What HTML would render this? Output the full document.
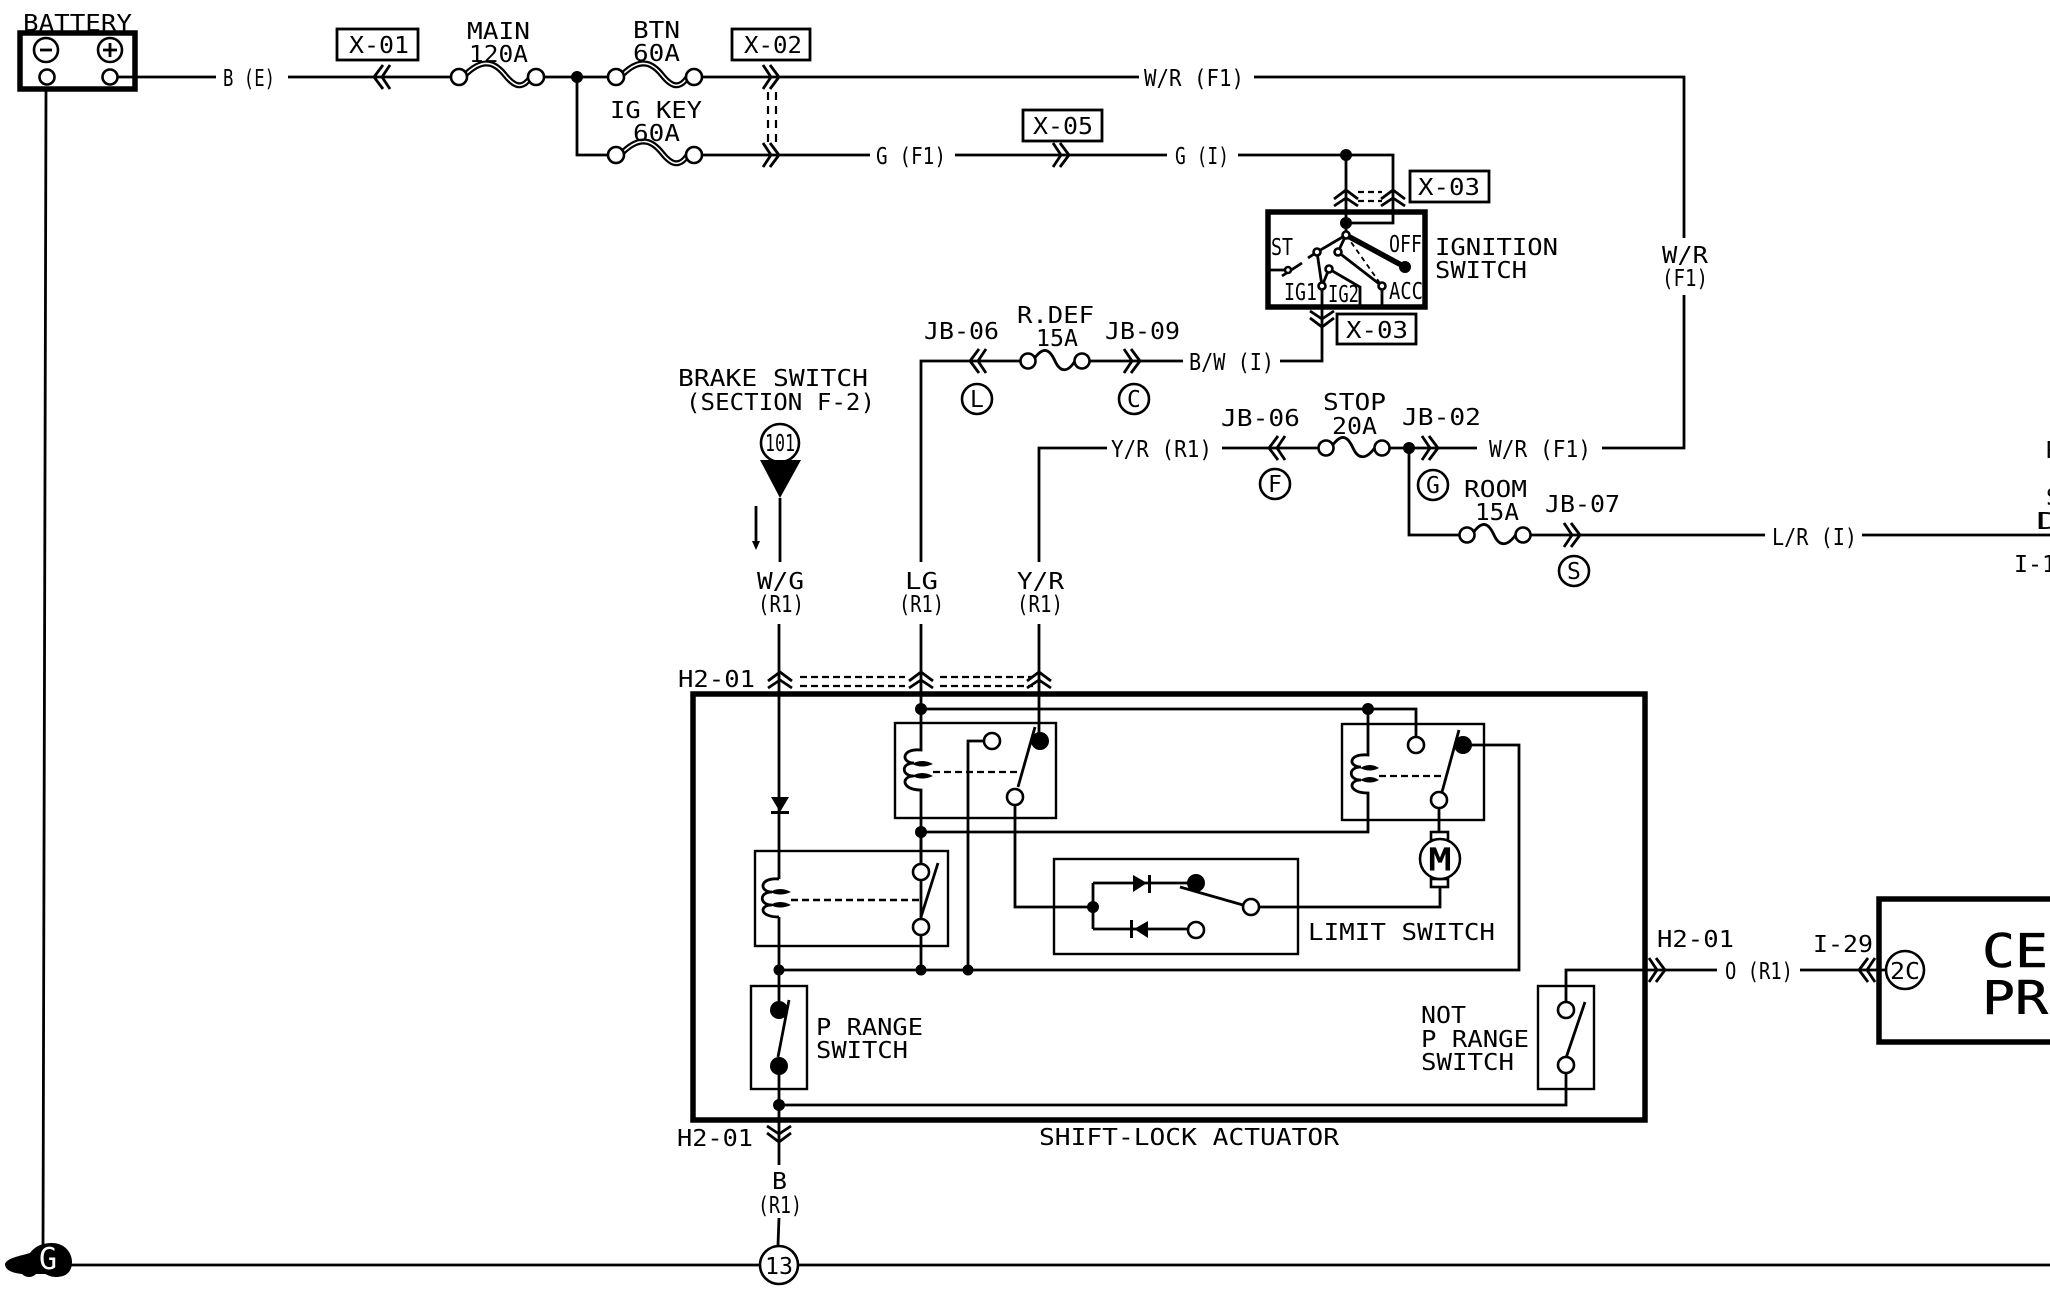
<!DOCTYPE html>
<html><head><meta charset="utf-8"><style>
html,body{margin:0;padding:0;background:#fff;width:2050px;height:1296px;overflow:hidden}
svg{display:block}
.w{fill:none;stroke:#000;stroke-width:2.8}
.b{fill:none;stroke:#000;stroke-width:5.5}
.t{fill:none;stroke:#000;stroke-width:2.4}
.o{fill:#fff;stroke:#000;stroke-width:2.6}
.f{fill:#000;stroke:none}
.d{fill:none;stroke:#000;stroke-width:2.2;stroke-dasharray:7 4}
text{font-family:"DejaVu Sans Mono","Liberation Mono",monospace;font-size:23px;fill:#000}
</style></head><body>
<svg xmlns="http://www.w3.org/2000/svg" width="2050" height="1296" viewBox="0 0 2050 1296">
<defs>
<path id="rr" class="w" d="M-10,-12 L-2,0 L-10,12 M-3,-12 L6,0 L-3,12"/>
</defs>

<!-- main wires -->
<path class="w" d="M118,77H216M288,77H459M536,77H616M694,77H1139M1254,77H1684V238M1684,295V448H1602"/>
<path class="w" d="M577,77V155H616M694,155H870M955,155H1167M1238,155H1393V223H1346M1346,155V223"/>
<path class="w" d="M1322,307V361H1280M1183,361H1082M1028,361H921V562M921,624V694"/>
<path class="w" d="M1039,694V624M1039,562V448H1107M1222,448H1326M1382,448H1477M1409,448V535H1467M1523,535H1765M1862,535H2050"/>
<path class="w" d="M780,498V562M779,624V879M779,917V1010M779,1066V1165M779,1218L778,1245"/>
<path class="w" d="M46,89L43,1245M70,1265H759M799,1265H2050"/>
<path class="w" d="M1566,1002V970H1717M1800,970H1885"/>

<!-- battery -->
<rect class="b" x="20" y="33" width="115" height="56"/>
<circle class="o" cx="46" cy="50" r="12" stroke-width="3"/><path class="w" d="M40,50H52"/>
<circle class="o" cx="110" cy="50" r="12" stroke-width="3"/><path class="w" d="M103,50H117M110,43V57"/>
<circle class="o" cx="47" cy="77" r="7.5"/><circle class="o" cx="110" cy="77" r="7.5"/>
<text x="23" y="31" textLength="109" lengthAdjust="spacingAndGlyphs">BATTERY</text>
<text x="223" y="86" textLength="52" lengthAdjust="spacingAndGlyphs">B (E)</text>

<!-- fuses top -->
<path style="fill:none;stroke:#000;stroke-width:6" d="M465,75C485,55 497,65 505,75C513,85 522,92 532,75"/>
<path style="fill:none;stroke:#fff;stroke-width:1.6" d="M465,75C485,55 497,65 505,75C513,85 522,92 532,75"/>
<circle class="o" cx="459" cy="77" r="8"/><circle class="o" cx="536" cy="77" r="8"/>
<path style="fill:none;stroke:#000;stroke-width:6" d="M622,75C642,55 654,65 662,75C670,85 679,92 689,75"/>
<path style="fill:none;stroke:#fff;stroke-width:1.6" d="M622,75C642,55 654,65 662,75C670,85 679,92 689,75"/>
<circle class="o" cx="616" cy="77" r="8"/><circle class="o" cx="694" cy="77" r="8"/>
<path style="fill:none;stroke:#000;stroke-width:6" d="M622,153C642,133 654,143 662,153C670,163 679,170 689,153"/>
<path style="fill:none;stroke:#fff;stroke-width:1.6" d="M622,153C642,133 654,143 662,153C670,163 679,170 689,153"/>
<circle class="o" cx="616" cy="155" r="8"/><circle class="o" cx="694" cy="155" r="8"/>
<circle class="f" cx="577" cy="77" r="6"/>
<text x="467" y="39" textLength="63" lengthAdjust="spacingAndGlyphs">MAIN</text>
<text x="469" y="62" textLength="59" lengthAdjust="spacingAndGlyphs">120A</text>
<text x="633" y="38" textLength="47" lengthAdjust="spacingAndGlyphs">BTN</text>
<text x="633" y="61" textLength="47" lengthAdjust="spacingAndGlyphs">60A</text>
<text x="610" y="118" textLength="92" lengthAdjust="spacingAndGlyphs">IG KEY</text>
<text x="633" y="141" textLength="47" lengthAdjust="spacingAndGlyphs">60A</text>

<!-- connector boxes -->
<rect class="w" x="337" y="29" width="81" height="31"/><text x="349" y="53" textLength="60" lengthAdjust="spacingAndGlyphs">X-01</text>
<rect class="w" x="732" y="29" width="78" height="31"/><text x="744" y="53" textLength="58" lengthAdjust="spacingAndGlyphs">X-02</text>
<rect class="w" x="1023" y="110" width="79" height="31"/><text x="1033" y="134" textLength="60" lengthAdjust="spacingAndGlyphs">X-05</text>
<rect class="w" x="1410" y="171" width="79" height="31"/><text x="1418" y="195" textLength="62" lengthAdjust="spacingAndGlyphs">X-03</text>
<rect class="w" x="1337" y="314" width="79" height="30"/><text x="1346" y="338" textLength="62" lengthAdjust="spacingAndGlyphs">X-03</text>

<!-- chevrons -->
<use href="#rr" transform="translate(380,77) rotate(180)"/>
<use href="#rr" transform="translate(773,77)"/>
<use href="#rr" transform="translate(773,155)"/>
<path class="d" style="stroke-dasharray:8 6" d="M768,92V142M776,92V142"/>
<use href="#rr" transform="translate(1063,155)"/>
<use href="#rr" transform="translate(1346,196) rotate(-90)"/>
<use href="#rr" transform="translate(1393,196) rotate(-90)"/>
<path class="d" style="stroke-dasharray:6 4" d="M1358,192H1382M1358,201H1382"/>
<use href="#rr" transform="translate(1322,321) rotate(90)"/>
<use href="#rr" transform="translate(976,361) rotate(180)"/>
<use href="#rr" transform="translate(1134,361)"/>
<use href="#rr" transform="translate(1275,448) rotate(180)"/>
<use href="#rr" transform="translate(1432,448)"/>
<use href="#rr" transform="translate(1574,535)"/>
<use href="#rr" transform="translate(780,678) rotate(-90)"/>
<use href="#rr" transform="translate(921,678) rotate(-90)"/>
<use href="#rr" transform="translate(1039,678) rotate(-90)"/>
<path class="d" d="M800,677H905M800,686H905M940,677H1033M940,686H1033"/>
<use href="#rr" transform="translate(779,1136) rotate(90)"/>
<use href="#rr" transform="translate(1659,970)"/>
<use href="#rr" transform="translate(1865,970) rotate(180)"/>

<!-- wire labels -->
<text x="1144" y="86" textLength="100" lengthAdjust="spacingAndGlyphs">W/R (F1)</text>
<text x="876" y="164" textLength="70" lengthAdjust="spacingAndGlyphs">G (F1)</text>
<text x="1175" y="164" textLength="54" lengthAdjust="spacingAndGlyphs">G (I)</text>
<text x="1662" y="263" textLength="46" lengthAdjust="spacingAndGlyphs">W/R</text>
<text x="1662" y="286" textLength="46" lengthAdjust="spacingAndGlyphs">(F1)</text>
<text x="1489" y="457" textLength="102" lengthAdjust="spacingAndGlyphs">W/R (F1)</text>
<text x="1189" y="370" textLength="85" lengthAdjust="spacingAndGlyphs">B/W (I)</text>
<text x="1111" y="457" textLength="101" lengthAdjust="spacingAndGlyphs">Y/R (R1)</text>
<text x="1772" y="545" textLength="85" lengthAdjust="spacingAndGlyphs">L/R (I)</text>
<text x="1725" y="979" textLength="68" lengthAdjust="spacingAndGlyphs">O (R1)</text>

<!-- ignition switch -->
<rect class="b" x="1268" y="212" width="157" height="95"/>
<path class="w" d="M1346,223V235M1346,235L1317,252L1308,258M1346,235L1338,252L1382,286V305M1317,252L1322,286V310M1329,269L1322,286M1329,269L1360,287V305M1270,270H1284M1282,276L1302,263"/>
<path class="d" style="stroke-dasharray:5 4;stroke-width:1.8" d="M1346,235L1382,286"/>
<path style="stroke:#000;stroke-width:5.5;fill:none" d="M1346,235L1405,267"/>
<circle class="f" cx="1346" cy="223" r="6"/><circle class="f" cx="1405" cy="267" r="6"/><circle class="f" cx="1346" cy="155" r="6"/>
<circle class="o" cx="1346" cy="235" r="3.5"/><circle class="o" cx="1317" cy="252" r="3.5"/><circle class="o" cx="1338" cy="252" r="3.5"/><circle class="o" cx="1329" cy="269" r="3.5"/><circle class="o" cx="1322" cy="286" r="3.5"/><circle class="o" cx="1382" cy="286" r="3.5"/><circle class="o" cx="1288" cy="270" r="3"/>
<text x="1271" y="255" textLength="22" lengthAdjust="spacingAndGlyphs">ST</text>
<text x="1389" y="252" textLength="33" lengthAdjust="spacingAndGlyphs">OFF</text>
<text x="1284" y="300" textLength="33" lengthAdjust="spacingAndGlyphs">IG1</text>
<text x="1328" y="302" textLength="31" lengthAdjust="spacingAndGlyphs">IG2</text>
<text x="1389" y="299" textLength="34" lengthAdjust="spacingAndGlyphs">ACC</text>
<text x="1435" y="255" textLength="123" lengthAdjust="spacingAndGlyphs">IGNITION</text>
<text x="1435" y="278" textLength="92" lengthAdjust="spacingAndGlyphs">SWITCH</text>

<!-- R.DEF fuse -->
<path class="w" d="M1034,359C1044,345 1050,350 1055,361C1060,372 1068,374 1076,359"/>
<circle class="o" cx="1028" cy="361" r="7.5"/><circle class="o" cx="1082" cy="361" r="7.5"/>
<text x="924" y="339" textLength="75" lengthAdjust="spacingAndGlyphs">JB-06</text>
<text x="1017" y="323" textLength="77" lengthAdjust="spacingAndGlyphs">R.DEF</text>
<text x="1036" y="346" textLength="42" lengthAdjust="spacingAndGlyphs">15A</text>
<text x="1105" y="339" textLength="75" lengthAdjust="spacingAndGlyphs">JB-09</text>
<circle class="o" cx="977" cy="399" r="15"/><text x="970" y="407">L</text>
<circle class="o" cx="1134" cy="399" r="15"/><text x="1127" y="407">C</text>

<!-- stop fuse -->
<path class="w" d="M1332,446C1342,432 1348,437 1353,448C1358,459 1366,461 1376,446"/>
<circle class="o" cx="1326" cy="448" r="7.5"/><circle class="o" cx="1382" cy="448" r="7.5"/>
<circle class="f" cx="1409" cy="448" r="6"/>
<text x="1221" y="426" textLength="79" lengthAdjust="spacingAndGlyphs">JB-06</text>
<text x="1323" y="410" textLength="63" lengthAdjust="spacingAndGlyphs">STOP</text>
<text x="1332" y="434" textLength="45" lengthAdjust="spacingAndGlyphs">20A</text>
<text x="1402" y="425" textLength="79" lengthAdjust="spacingAndGlyphs">JB-02</text>
<circle class="o" cx="1275" cy="484" r="15"/><text x="1268" y="492">F</text>
<circle class="o" cx="1433" cy="485" r="15"/><text x="1426" y="493">G</text>

<!-- room fuse -->
<path class="w" d="M1473,533C1483,519 1489,524 1494,535C1499,546 1507,548 1517,533"/>
<circle class="o" cx="1467" cy="535" r="7.5"/><circle class="o" cx="1523" cy="535" r="7.5"/>
<text x="1464" y="497" textLength="63" lengthAdjust="spacingAndGlyphs">ROOM</text>
<text x="1475" y="520" textLength="44" lengthAdjust="spacingAndGlyphs">15A</text>
<text x="1545" y="512" textLength="75" lengthAdjust="spacingAndGlyphs">JB-07</text>
<circle class="o" cx="1574" cy="571" r="15"/><text x="1567" y="579">S</text>
<text x="2036" y="529" textLength="24" lengthAdjust="spacingAndGlyphs">D</text>
<text x="2014" y="572" textLength="42" lengthAdjust="spacingAndGlyphs">I-1</text>
<text x="2046" y="458">R</text>
<text x="2046" y="505">S</text>

<!-- brake switch -->
<text x="678" y="386" textLength="190" lengthAdjust="spacingAndGlyphs">BRAKE SWITCH</text>
<text x="686" y="410" textLength="189" lengthAdjust="spacingAndGlyphs">(SECTION F-2)</text>
<circle class="o" cx="780" cy="443" r="19"/>
<text x="765" y="451" textLength="30" lengthAdjust="spacingAndGlyphs">101</text>
<path class="f" d="M760,460H801L780,498Z"/>
<path class="w" d="M756,506V543"/><path class="f" d="M752,541H760L756,550Z"/>
<text x="757" y="589" textLength="47" lengthAdjust="spacingAndGlyphs">W/G</text>
<text x="758" y="612" textLength="46" lengthAdjust="spacingAndGlyphs">(R1)</text>
<text x="905" y="589" textLength="33" lengthAdjust="spacingAndGlyphs">LG</text>
<text x="899" y="612" textLength="45" lengthAdjust="spacingAndGlyphs">(R1)</text>
<text x="1017" y="589" textLength="47" lengthAdjust="spacingAndGlyphs">Y/R</text>
<text x="1017" y="612" textLength="46" lengthAdjust="spacingAndGlyphs">(R1)</text>
<text x="678" y="687" textLength="77" lengthAdjust="spacingAndGlyphs">H2-01</text>

<!-- actuator -->
<rect class="b" x="693" y="694" width="952" height="426"/>
<!-- top-left relay -->
<rect class="t" x="895" y="723" width="161" height="95"/>
<path class="w" d="M921,694V750C901,748 901,763 914,763C901,763 901,776 914,776C901,776 901,790 921,790V921"/>
<path class="f" d="M912,764Q922,758 933,764Q922,769 912,764ZM912,776Q922,770 933,776Q922,781 912,776Z"/>
<path class="d" d="M933,772H1020"/>
<path class="w" d="M921,709H1416V745M1039,694V741M1018,787L1035,727M992,741H968V970M1015,805V907H1093"/>
<circle class="f" cx="1040" cy="741" r="9"/>
<circle class="o" cx="992" cy="741" r="8"/><circle class="o" cx="1015" cy="797" r="8"/>
<circle class="f" cx="921" cy="709" r="6"/><circle class="f" cx="921" cy="832" r="6"/>
<!-- right relay -->
<rect class="t" x="1342" y="724" width="142" height="96"/>
<path class="w" d="M1368,709V755C1348,753 1348,767 1361,767C1348,767 1348,780 1361,780C1348,780 1348,793 1368,793V832H921"/>
<path class="f" d="M1360,768Q1370,762 1379,768Q1370,773 1360,768ZM1360,780Q1370,774 1379,780Q1370,785 1360,780Z"/>
<path class="d" d="M1379,776H1445"/>
<path class="w" d="M1442,792L1459,730M1463,745H1519V970H779M1439,808V832M1440,879V907H1251"/>
<circle class="f" cx="1463" cy="745" r="9"/>
<circle class="o" cx="1416" cy="745" r="8"/><circle class="o" cx="1439" cy="800" r="8"/>
<circle class="f" cx="1368" cy="709" r="6"/>
<!-- motor -->
<rect class="o" x="1431" y="832" width="17" height="8"/><rect class="o" x="1431" y="879" width="17" height="8"/>
<circle class="o" cx="1440" cy="859" r="20"/>
<text x="1429" y="870" style="font-size:30px;stroke:#000;stroke-width:1" textLength="22" lengthAdjust="spacingAndGlyphs">M</text>
<!-- limit switch -->
<rect class="t" x="1054" y="859" width="244" height="95"/>
<path class="w" d="M1093,883V929M1093,883H1196M1093,929H1196M1180,887L1243,905"/>
<path class="f" d="M1133,875V892L1147,883ZM1148,875h3v18h-3ZM1148,921V938L1134,929ZM1130,920h3v18h-3Z"/>
<circle class="f" cx="1196" cy="883" r="9"/><circle class="o" cx="1196" cy="930" r="8"/>
<circle class="o" cx="1251" cy="907" r="8"/><circle class="f" cx="1093" cy="907" r="6"/>
<text x="1308" y="940" textLength="187" lengthAdjust="spacingAndGlyphs">LIMIT SWITCH</text>
<!-- left relay -->
<path class="f" d="M771,797H789L780,812ZM771,811H789V814H771Z"/>
<rect class="t" x="755" y="851" width="193" height="95"/>
<path class="w" d="M779,879C759,877 759,892 772,892C759,892 759,905 772,905C759,905 759,917 779,917"/>
<path class="f" d="M770,892Q780,886 791,892Q780,897 770,892ZM770,905Q780,899 791,905Q780,910 770,905Z"/>
<path class="d" d="M791,900H923" style="stroke-width:2.6"/>
<path class="w" d="M921,832V864M921,935V970M921,917L938,863"/>
<circle class="o" cx="921" cy="872" r="8"/><circle class="o" cx="921" cy="927" r="8"/>
<circle class="f" cx="779" cy="970" r="5.5"/><circle class="f" cx="921" cy="970" r="5.5"/><circle class="f" cx="968" cy="970" r="5.5"/>
<!-- P range -->
<rect class="t" x="751" y="986" width="56" height="103"/>
<path class="w" d="M778,1057L789,1000M779,1105H1566V1073"/>
<circle class="f" cx="779" cy="1010" r="9"/><circle class="f" cx="779" cy="1066" r="9"/><circle class="f" cx="779" cy="1105" r="6"/>
<text x="816" y="1035" textLength="107" lengthAdjust="spacingAndGlyphs">P RANGE</text>
<text x="816" y="1058" textLength="92" lengthAdjust="spacingAndGlyphs">SWITCH</text>
<!-- not P range -->
<rect class="t" x="1538" y="986" width="56" height="103"/>
<path class="w" d="M1566,1058L1585,1002"/>
<circle class="o" cx="1566" cy="1010" r="8"/><circle class="o" cx="1566" cy="1065" r="8"/>
<text x="1421" y="1023" textLength="45" lengthAdjust="spacingAndGlyphs">NOT</text>
<text x="1421" y="1047" textLength="108" lengthAdjust="spacingAndGlyphs">P RANGE</text>
<text x="1421" y="1070" textLength="93" lengthAdjust="spacingAndGlyphs">SWITCH</text>
<text x="1039" y="1145" textLength="300" lengthAdjust="spacingAndGlyphs">SHIFT-LOCK ACTUATOR</text>
<text x="677" y="1146" textLength="76" lengthAdjust="spacingAndGlyphs">H2-01</text>
<text x="772" y="1189" textLength="15" lengthAdjust="spacingAndGlyphs">B</text>
<text x="758" y="1213" textLength="44" lengthAdjust="spacingAndGlyphs">(R1)</text>
<circle class="o" cx="779" cy="1265" r="19"/>
<text x="765" y="1274" textLength="28" lengthAdjust="spacingAndGlyphs">13</text>

<!-- right side -->
<text x="1657" y="947" textLength="77" lengthAdjust="spacingAndGlyphs">H2-01</text>
<text x="1813" y="952" textLength="60" lengthAdjust="spacingAndGlyphs">I-29</text>
<path class="b" d="M2055,899H1879V1042H2055"/>
<circle class="o" cx="1905" cy="970" r="19"/>
<text x="1890" y="979" textLength="30" lengthAdjust="spacingAndGlyphs">2C</text>
<text x="1982" y="967" style="font-size:46px;stroke:#000;stroke-width:.6" textLength="231" lengthAdjust="spacingAndGlyphs">CENTRAL</text>
<text x="1982" y="1014" style="font-size:46px;stroke:#000;stroke-width:.6" textLength="330" lengthAdjust="spacingAndGlyphs">PROCESSING</text>

<!-- ground -->
<path class="f" d="M5,1264C7,1258 20,1256 30,1253C36,1245 44,1243 52,1243C64,1243 72,1252 72,1262C72,1272 66,1277 56,1277C50,1277 48,1275 45,1274H36C32,1278 26,1278 22,1274C12,1273 5,1270 5,1264Z"/>
<text x="39" y="1269" style="font-size:30px;fill:#fff">G</text>
</svg>
</body></html>
